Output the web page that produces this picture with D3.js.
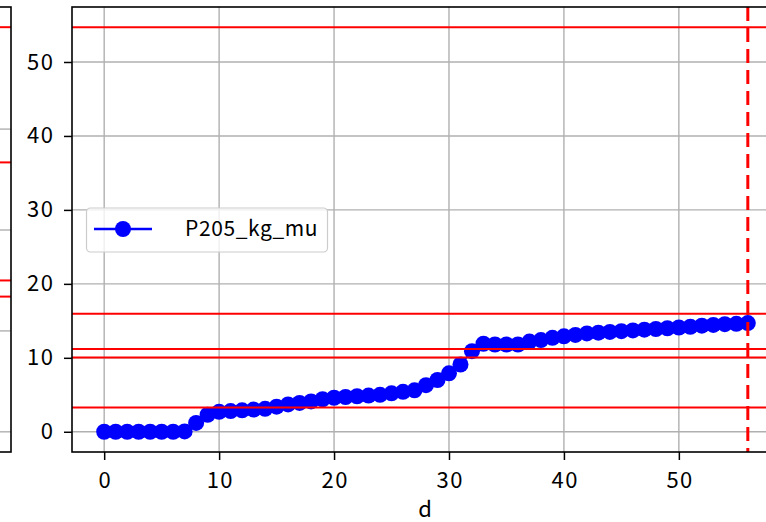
<!DOCTYPE html>
<html>
<head>
<meta charset="utf-8">
<script src="https://cdn.jsdelivr.net/npm/d3@7"></script>
<style>
  html, body { margin: 0; padding: 0; background: #fff; }
  svg { display: block; }
  text { font-family: "Noto Sans CJK JP", "DejaVu Sans", sans-serif; fill: #000; }
</style>
</head>
<body>
<svg id="chart" width="766" height="522"></svg>
<script>
// ---- data ----
const days = d3.range(0, 57);
const p205 = [0, 0, 0, 0, 0, 0, 0, 0.05, 1.2, 2.3,
  2.7, 2.8, 2.9, 3.0, 3.1, 3.4, 3.7, 3.9, 4.1, 4.4,
  4.6, 4.7, 4.8, 4.9, 5.0, 5.2, 5.4, 5.6, 6.3, 7.0,
  7.9, 9.1, 10.9, 11.9, 11.8, 11.8, 11.8, 12.2, 12.4, 12.7,
  12.9, 13.1, 13.3, 13.4, 13.5, 13.6, 13.7, 13.8, 13.9, 14.0,
  14.1, 14.2, 14.35, 14.45, 14.55, 14.6, 14.7];
const hLines = [54.7, 15.95, 11.18, 10.04, 3.28];
const vLine = 56;
const xTicks = [0, 10, 20, 30, 40, 50];
const yTicks = [0, 10, 20, 30, 40, 50];
const seriesName = "P205_kg_mu";
const xLabel = "d";
// left (partially visible) neighbour panel
const leftGrid = [0, 10, 20, 30];
const leftHLines = [40.1, 26.7, 15.0, 13.4];

const svg = d3.select("#chart");
const pTop = 7, pBottom = 452;

// ---- left neighbour panel ----
const yL = d3.scaleLinear().domain([-2.0, 42.1]).range([pBottom, pTop]);
const gL = svg.append("g");
gL.selectAll("line.grid").data(leftGrid).join("line")
  .attr("x1", -10).attr("x2", 11).attr("y1", d => yL(d)).attr("y2", d => yL(d))
  .attr("stroke", "#b0b0b0").attr("stroke-width", 1.4);
gL.selectAll("line.h").data(leftHLines).join("line")
  .attr("x1", -10).attr("x2", 11).attr("y1", d => yL(d)).attr("y2", d => yL(d))
  .attr("stroke", "#ff0000").attr("stroke-width", 2);
gL.append("rect").attr("x", -20).attr("y", pTop).attr("width", 31).attr("height", pBottom - pTop)
  .attr("fill", "none").attr("stroke", "#000").attr("stroke-width", 1.6);

// ---- main panel ----
const pLeft = 72, pRight = 780;
const x = d3.scaleLinear().domain([-2.8, 58.8]).range([pLeft, pRight]);
const y = d3.scaleLinear().domain([-2.735, 57.435]).range([pBottom, pTop]);

const g = svg.append("g");
g.append("defs").append("clipPath").attr("id", "clip")
  .append("rect").attr("x", pLeft).attr("y", pTop).attr("width", pRight - pLeft).attr("height", pBottom - pTop);

// grid
g.selectAll("line.gx").data(xTicks).join("line").attr("class", "gx")
  .attr("x1", d => x(d)).attr("x2", d => x(d)).attr("y1", pTop).attr("y2", pBottom)
  .attr("stroke", "#b0b0b0").attr("stroke-width", 1.4);
g.selectAll("line.gy").data(yTicks).join("line").attr("class", "gy")
  .attr("x1", pLeft).attr("x2", pRight).attr("y1", d => y(d)).attr("y2", d => y(d))
  .attr("stroke", "#b0b0b0").attr("stroke-width", 1.4);

const plot = g.append("g").attr("clip-path", "url(#clip)");
// series
plot.append("path").datum(days.map((d, i) => [d, p205[i]]))
  .attr("fill", "none").attr("stroke", "#0000ff").attr("stroke-width", 2)
  .attr("d", d3.line().x(d => x(d[0])).y(d => y(d[1])));
plot.selectAll("circle").data(days).join("circle")
  .attr("cx", d => x(d)).attr("cy", (d, i) => y(p205[i])).attr("r", 8)
  .attr("fill", "#0000ff");
// reference lines
plot.selectAll("line.h").data(hLines).join("line").attr("class", "h")
  .attr("x1", pLeft).attr("x2", pRight).attr("y1", d => y(d)).attr("y2", d => y(d))
  .attr("stroke", "#ff0000").attr("stroke-width", 2);
plot.append("line").attr("x1", x(vLine)).attr("x2", x(vLine)).attr("y1", pTop).attr("y2", pBottom)
  .attr("stroke", "#ff0000").attr("stroke-width", 3).attr("stroke-dasharray", "14,7");

// axes
const xAxis = d3.axisBottom(x).tickValues(xTicks).tickSize(8).tickPadding(12).tickFormat(d3.format("d"));
const yAxis = d3.axisLeft(y).tickValues(yTicks).tickSize(8).tickPadding(9.5).tickFormat(d3.format("d"));
const gx = g.append("g").attr("transform", `translate(0,${pBottom})`).call(xAxis);
const gy = g.append("g").attr("transform", `translate(${pLeft},0)`).call(yAxis);
[gx, gy].forEach(a => {
  a.select(".domain").remove();
  a.selectAll(".tick line").attr("stroke", "#000").attr("stroke-width", 1.5);
  a.selectAll(".tick text").attr("font-size", 22).attr("letter-spacing", 1.5)
    .attr("font-family", "Noto Sans CJK JP").attr("fill", "#000");
});
gx.selectAll(".tick text").attr("dx", "0.75");
// frame
g.append("rect").attr("x", pLeft).attr("y", pTop).attr("width", pRight - pLeft + 10).attr("height", pBottom - pTop)
  .attr("fill", "none").attr("stroke", "#000").attr("stroke-width", 1.6);

// x label
g.append("text").attr("x", 425).attr("y", 517)
  .attr("text-anchor", "middle").attr("font-size", 22).text(xLabel);

// legend
const lg = g.append("g");
lg.append("rect").attr("x", 86.5).attr("y", 208).attr("width", 241).attr("height", 44)
  .attr("rx", 4).attr("fill", "#fff").attr("fill-opacity", 0.8)
  .attr("stroke", "#cccccc").attr("stroke-width", 1.2);
lg.append("line").attr("x1", 94).attr("x2", 152).attr("y1", 229).attr("y2", 229)
  .attr("stroke", "#0000ff").attr("stroke-width", 2.5);
lg.append("circle").attr("cx", 123).attr("cy", 229).attr("r", 8).attr("fill", "#0000ff");
lg.append("text").attr("x", 185).attr("y", 236).attr("font-size", 21).attr("letter-spacing", 0.6).text(seriesName);
</script>
</body>
</html>
